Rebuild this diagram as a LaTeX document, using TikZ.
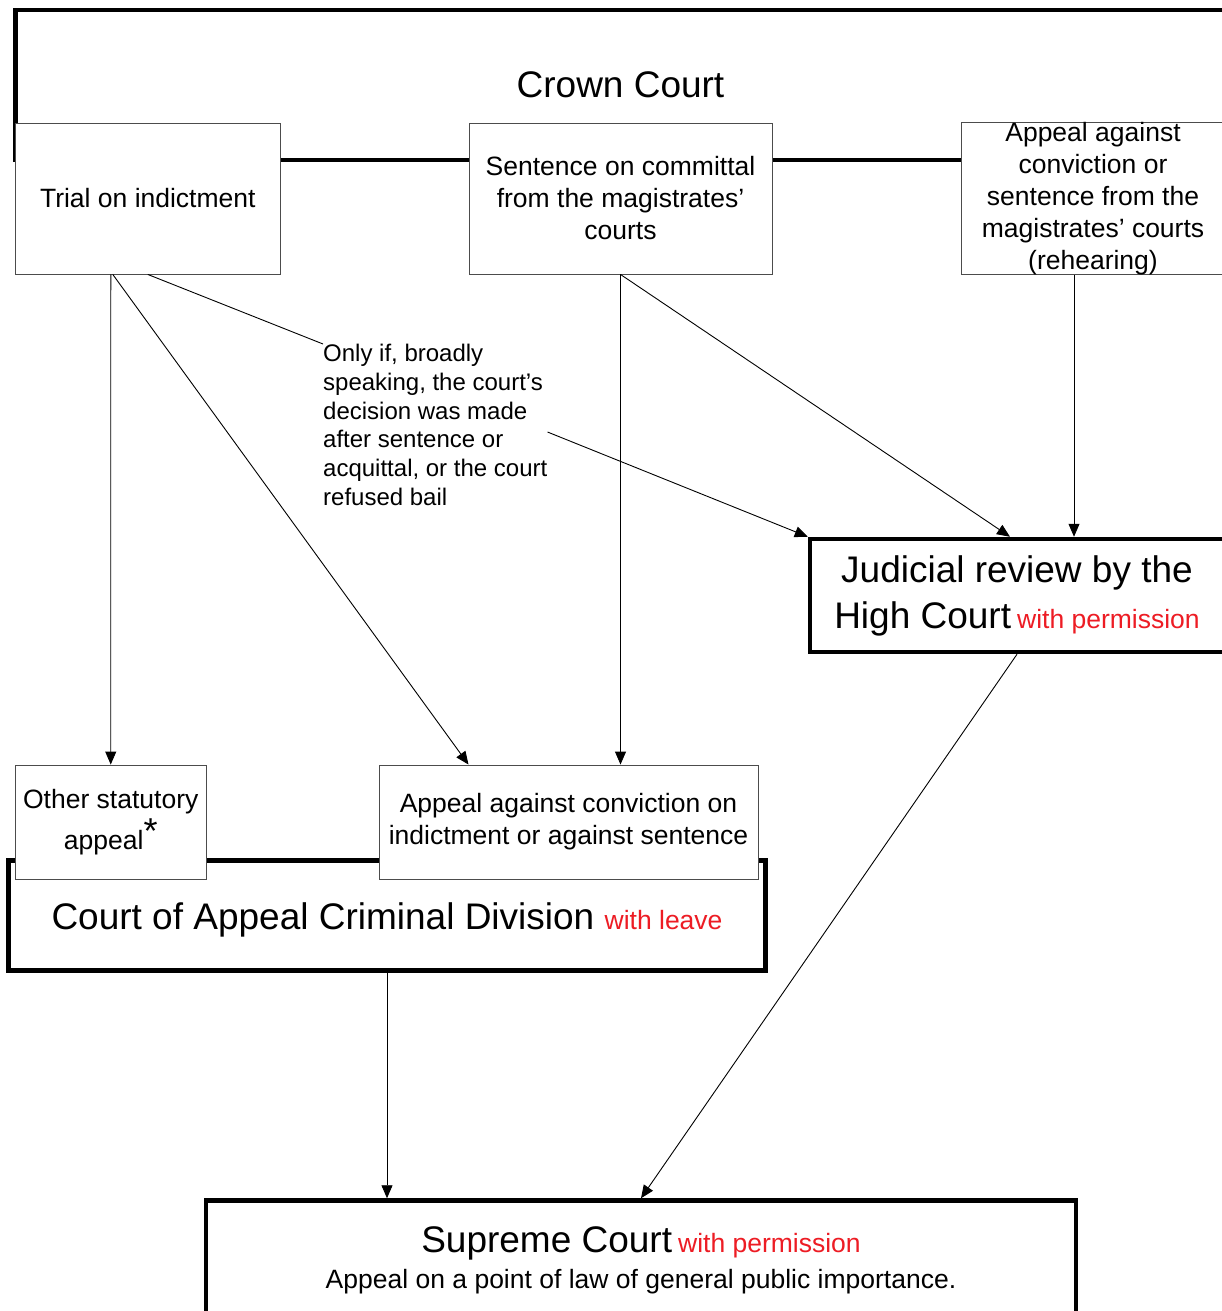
\documentclass[tikz,border=0pt]{standalone}
\usepackage{fontspec}
\setmainfont{Liberation Sans}
\usetikzlibrary{arrows.meta}
\definecolor{leavered}{RGB}{237,28,36}

\begin{document}
\begin{tikzpicture}[x=1pt,y=-1pt]
\tikzstyle{every node}=[inner sep=0pt]
\tikzstyle{court}=[draw,line width=4.5pt,fill=white,align=center,font=\fontsize{37}{46}\selectfont]
\tikzstyle{route}=[draw=black!70,line width=0.9pt,fill=white,align=center,font=\fontsize{26.5}{32}\selectfont]
\def \redtxt #1{{\color{leavered}\fontsize{26.5}{32}\selectfont #1}}
\def \rowh {151}
\useasboundingbox (0,0) rectangle (1222,1311);
\draw
  (620.5,  85)   node [court,minimum width=1210,minimum height=150] (crown)   {Crown Court}
  (387,   915.5) node [court,minimum width=757, minimum height=110,
                       text height=35pt,text depth=8pt]              (cacd)    {Court of Appeal Criminal Division \redtxt{with leave}}
  (1017,  595.5) node [court,minimum width=414, minimum height=113] (jr)      {Judicial review by the\\High Court\hspace{6pt}\redtxt{with permission}}
  (641,  1260)   node [court,minimum width=870, minimum height=119,
                       font=\fontsize{26.5}{36}\selectfont]          (supreme) {{\fontsize{37}{36}\selectfont Supreme Court}\hspace{6pt}\redtxt{with permission}\\Appeal on a point of law of general public importance.}
;
\draw
  (147.8, 198.5) node [route,minimum width=264.5,minimum height=\rowh] (trial)     {Trial on indictment}
  (620.5, 198.5) node [route,minimum width=303,  minimum height=\rowh] (committal) {Sentence on committal\\from the magistrates’\\courts}
  (1093,  198.5) node [route,minimum width=264,  minimum height=\rowh] (rehear)    {Appeal against\\conviction or\\sentence from the\\magistrates’ courts\\(rehearing)}
  (110.75,822)   node [route,minimum width=190.5,minimum height=114,
                       font=\fontsize{26.5}{41}\selectfont]            (other)     {Other statutory\\appeal\raisebox{6pt}{\fontsize{36}{36}\selectfont*}}
  (568.5, 822)   node [route,minimum width=379,  minimum height=114]   (appeal)    {Appeal against conviction on\\indictment or against sentence}
  (323,   344)   node [anchor=north west,align=left,
                       font=\fontsize{24}{28.8}\selectfont]            (note)      {Only if, broadly\\speaking, the court’s\\decision was made\\after sentence or\\acquittal, or the court\\refused bail}
;
\path[line width=0.9pt,-{Triangle[length=13pt,width=11pt]}]
([xshift=-37pt]trial.south)  edge                        (other.north)
([xshift=-35pt]trial.south)  edge                        ([xshift=-100pt]appeal.north)
(trial.south)                edge [-]                    (note.north west)
([yshift=-7pt]note.east)     edge                        (jr.north west)
(committal.south)            edge                        (committal.south |- appeal.north)
(committal.south)            edge                        ([xshift=-7pt]jr.north)
([xshift=-19pt]rehear.south) edge                        ([xshift=57pt]jr.north)
(jr.south)                   edge                        (supreme.north)
(cacd.south)                 edge                        (cacd.south |- supreme.north)
;
\end{tikzpicture}
\end{document}
